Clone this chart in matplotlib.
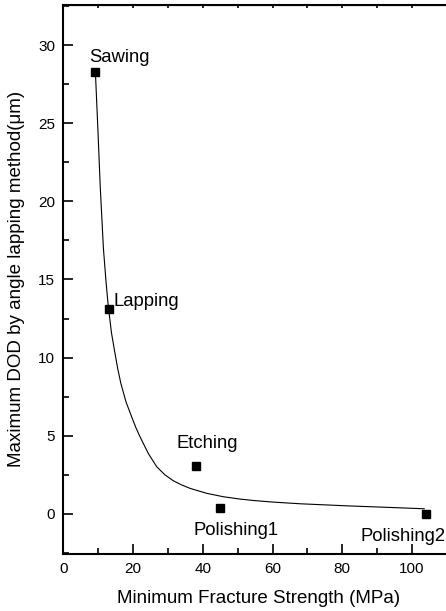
import numpy as np
import matplotlib
matplotlib.use("Agg")
import matplotlib.pyplot as plt
from matplotlib.ticker import MultipleLocator

plt.rcParams['font.family'] = ['Liberation Sans', 'DejaVu Sans']

# measured points (MPa, um)
names = ["Sawing", "Lapping", "Etching", "Polishing1", "Polishing2"]
strength = [9.2, 13.0, 38.0, 44.9, 104.0]
dod = [28.3, 13.1, 3.07, 0.38, 0.0]

# fitted curve
fit_x = [9.2, 9.95, 10.6, 11.5, 12.2, 12.8, 13.8, 14.8, 15.6, 16.5, 18.0, 19.6, 20.8, 22.0,
         24.4, 26.8, 29.1, 31.5, 33.9, 36.3, 41.1, 45.9, 50.7, 55.0, 60.0, 67.9, 75.0,
         82.2, 89.4, 96.6, 103.5]
fit_y = [28.3, 24.45, 20.9, 17.0, 15.0, 13.5, 11.6, 10.3, 9.3, 8.35, 7.15, 6.21, 5.52, 4.93,
         3.85, 3.01, 2.5, 2.12, 1.85, 1.63, 1.31, 1.09, 0.94, 0.84, 0.75, 0.64, 0.57,
         0.50, 0.44, 0.38, 0.32]

# label anchor positions (left edge, vertical centre)
label_x = [7.4, 14.5, 32.5, 37.3, 85.1]
label_y = [29.2, 13.57, 4.5, -1.04, -1.43]

fig = plt.figure(figsize=(4.46, 6.11), dpi=100)
ax = fig.add_axes([63.3 / 446, 57.4 / 611, 112 * 3.487 / 446, 548.6 / 611])

ax.plot(fit_x, fit_y, color="black", lw=0.8)
ax.plot(strength, dod, "s", color="black", markersize=5.5)

for n, lx, ly in zip(names, label_x, label_y):
    ax.text(lx, ly, n, fontsize=13.3, ha="left", va="center")

ax.set_xlim(0, 112)
ax.set_ylim(-2.55, 32.57)
ax.xaxis.set_major_locator(MultipleLocator(20))
ax.xaxis.set_minor_locator(MultipleLocator(10))
ax.yaxis.set_major_locator(MultipleLocator(5))
ax.yaxis.set_minor_locator(MultipleLocator(2.5))
ax.tick_params(which="major", direction="in", length=7, width=1.2, labelsize=11, pad=6)
ax.tick_params(which="minor", direction="in", length=4, width=1.2)
for s in ax.spines.values():
    s.set_linewidth(1.5)

top = ax.secondary_xaxis("top")
top.xaxis.set_major_locator(MultipleLocator(10))
top.tick_params(direction="in", length=2.5, width=1.2, labeltop=False)

ax.set_xlabel("Minimum Fracture Strength (MPa)", fontsize=13.5, labelpad=10)
ax.set_ylabel("Maximum DOD by angle lapping method(\u03bcm)", fontsize=13.5, labelpad=9)

fig.savefig("out.png", dpi=100)
